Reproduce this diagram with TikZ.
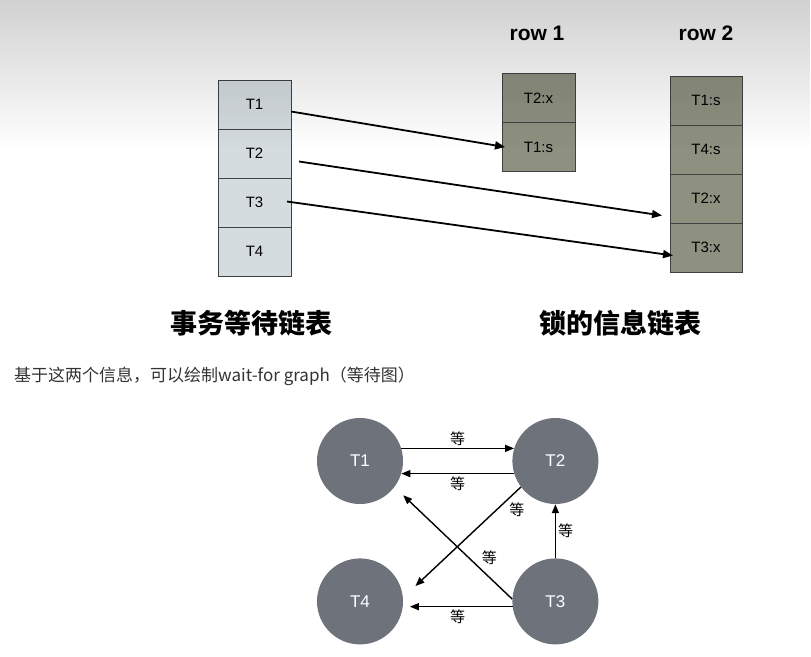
\documentclass[tikz,border=0pt]{standalone}
\usepackage{fontspec}
\setmainfont{Liberation Sans}
\newfontfamily\cjk{Noto Sans CJK SC}
\usetikzlibrary{arrows.meta,positioning,fadings}
\definecolor{txcell}{HTML}{D5DCDF}
\definecolor{lkcell}{HTML}{8E9080}
\definecolor{cellframe}{HTML}{3F4244}
\definecolor{wfnode}{HTML}{6E727B}
\definecolor{captext}{HTML}{333333}

\begin{document}
\begin{tikzpicture}[x=1pt,y=-1pt,node distance=0pt,
  txbox/.style={draw=cellframe,fill=txcell,line width=0.9pt,outer sep=0pt,
    minimum width=73pt,minimum height=49pt,font=\fontsize{15}{17}\selectfont},
  lkbox/.style={txbox,fill=lkcell},
  rowlbl/.style={font=\fontsize{21}{24}\selectfont\bfseries},
  listcap/.style={font=\cjk\fontsize{27}{30}\selectfont\bfseries},
  wfnode/.style={circle,fill=wfnode,text=white,minimum size=86pt,inner sep=0pt,
    font=\fontsize{17}{19}\selectfont},
  wflbl/.style={font=\cjk\fontsize{15}{17}\selectfont,inner sep=2pt},
  lkar/.style={-{Triangle[length=10pt,width=8pt]},line width=1.8pt},
  wfar/.style={-{Triangle[length=9pt,width=7pt]},line width=1.4pt}]
\useasboundingbox (0,0) rectangle (811,656);
% transaction wait list
\node[txbox](l1) at (254.5,104.5){T1};
\node[txbox,below=of l1](l2){T2};
\node[txbox,below=of l2](l3){T3};
\node[txbox,below=of l3](l4){T4};
% lock info list
\node[rowlbl](row1) at (537,33){row 1};
\node[lkbox](r1a) at (538.5,98){T2:x};
\node[lkbox,below=of r1a](r1b){T1:s};
\node[rowlbl](row2) at (706,33){row 2};
\node[lkbox,minimum width=72pt](r2a) at (706,100.5){T1:s};
\node[lkbox,minimum width=72pt,below=of r2a](r2b){T4:s};
\node[lkbox,minimum width=72pt,below=of r2b](r2c){T2:x};
\node[lkbox,minimum width=72pt,below=of r2c](r2d){T3:x};
\draw[lkar]([yshift=-7pt]l1.east)--([xshift=3pt]r1b.west);
\draw[lkar]([xshift=8pt,yshift=-8pt]l2.east)--([xshift=-8pt,yshift=-17pt]r2c.west);
\draw[lkar]([xshift=-4pt,yshift=1pt]l3.east)--([xshift=3pt,yshift=-8pt]r2d.west);
% shade over the top of the slide
\fill[black,opacity=0.18,path fading=south](0,0) rectangle (811,150);
\node[listcap](txcap) at (251,323){事务等待链表};
\node[listcap](lkcap) at (620,323){锁的信息链表};
\node[anchor=west,inner sep=0pt,text=captext,font=\cjk\fontsize{17}{20}\selectfont](note) at (14,376)
  {基于这两个信息，可以绘制wait-for graph（等待图）};
% wait-for graph
\node[wfnode](t1) at (360,461){T1};
\node[wfnode,right=109pt of t1](t2){T2};
\node[wfnode,below=54pt of t1](t4){T4};
\node[wfnode,right=109pt of t4](t3){T3};
\draw[wfar](t1.17)--(t2.163)node[wflbl,midway,above]{等};
\draw[wfar](t2.197)--(t1.-17)node[wflbl,midway,below]{等};
\draw[wfar,shorten >=17pt](t2.217)--(t4.5)node[wflbl,pos=0.12,anchor=north west]{等};
\draw[wfar,shorten >=12pt](t3.177)--(t1.-37)node[wflbl,pos=0.28,anchor=south west]{等};
\draw[wfar](t3.north)--(t2.south)node[wflbl,midway,right]{等};
\draw[wfar,shorten >=7pt](t3.187)--(t4.-7)node[wflbl,midway,below]{等};
\end{tikzpicture}
\end{document}
